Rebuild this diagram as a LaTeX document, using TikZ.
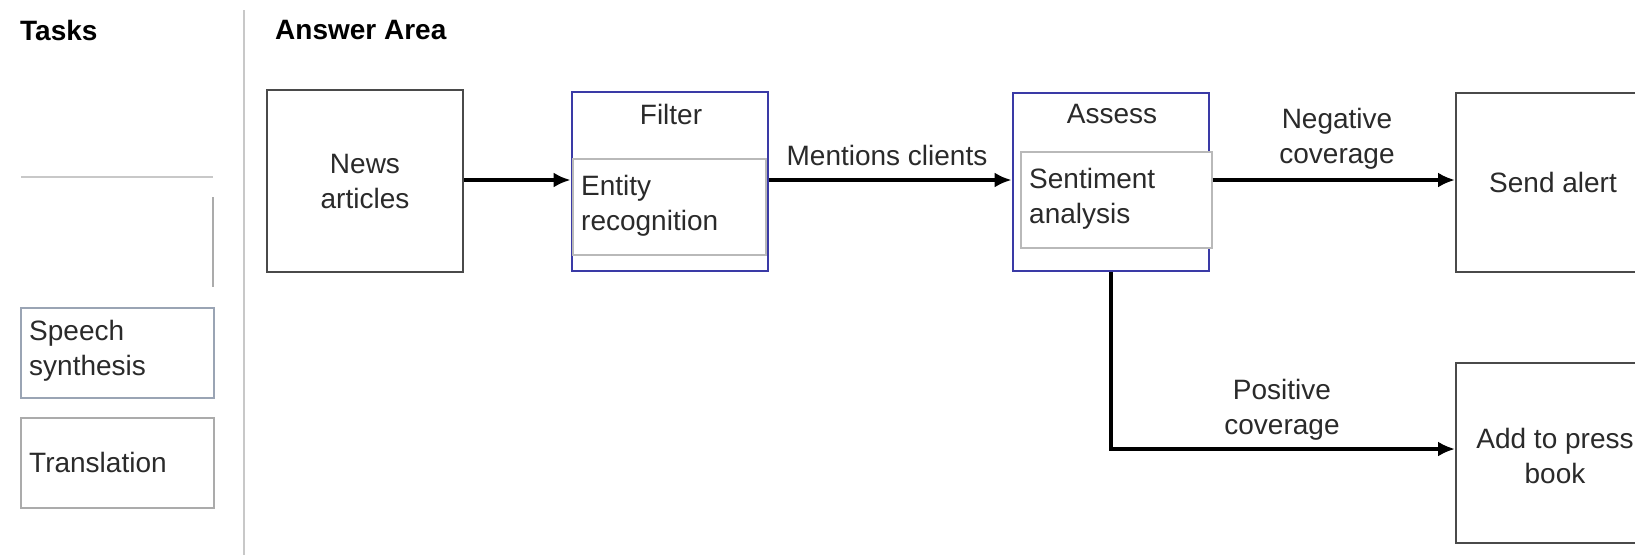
\documentclass[tikz,border=0pt]{standalone}
\usepackage{fontspec}
\setmainfont{Liberation Sans}
\usetikzlibrary{arrows.meta}
\definecolor{txt}{HTML}{2A2A2A}
\definecolor{grpblue}{HTML}{3A3AA6}
\definecolor{lightln}{HTML}{C8C8C8}
\definecolor{slotln}{HTML}{9AA4B4}
\begin{document}
\begin{tikzpicture}[x=1pt,y=-1pt,
  every node/.style={font=\fontsize{28}{35}\selectfont, text=txt},
  box/.style={draw=txt!85!white, line width=2.4pt, fill=white, inner sep=0pt},
  grp/.style={draw=grpblue, line width=2.8pt, inner sep=0pt},
  inbox/.style={draw=lightln!80!gray, line width=1.6pt, fill=white, inner sep=0pt},
  slot/.style={draw=slotln, line width=1.6pt, inner sep=0pt, minimum width=193, minimum height=90},
  arr/.style={draw=black, line width=3.4pt, -{Latex[length=17pt,width=15pt]}},
  lbl/.style={align=center, inner sep=0pt},
  head/.style={font=\fontsize{28}{32}\selectfont\bfseries, text=black, anchor=west, inner sep=0pt}]
\clip (0,0) rectangle (1635,555);
\fill[white] (0,0) rectangle (1635,555);

% left panel
\draw[lightln, line width=2pt] (244,10) -- (244,555);
\node[head] (tasks) at (20,30) {Tasks};
\node[head] (answer) at (275,30) {Answer Area};
\draw[lightln, line width=1.6pt] (21,177) -- (213,177);
\draw[lightln!60!gray, line width=1.6pt] (213,197) -- (213,287);
\node[slot, anchor=north west] (speech) at (20,307) {};
\node[anchor=west, align=left, inner sep=0pt] (speechtxt) at (29,351) {Speech\\synthesis};
\node[slot, draw=lightln!60!gray, anchor=north west] (transl) at (20,417) {};
\node[anchor=west, inner sep=0pt] (transltxt) at (29,462) {Translation};

% news articles
\node[box, minimum width=196, minimum height=182, align=center] (news) at (365,181) {News\\articles};

% filter group
\node[grp, minimum width=196, minimum height=179] (filter) at (670,181.5) {};
\node[inbox, minimum width=193, minimum height=96, anchor=north west] (entity) at (572,158) {};
\node[anchor=west, align=left, inner sep=0pt] (entitytxt) at (581,206) {Entity\\recognition};
\node[inner sep=0pt] (filtertxt) at (671,114) {Filter};

% assess group
\node[grp, minimum width=196, minimum height=178] (assess) at (1111,182) {};
\node[inbox, minimum width=191, minimum height=96, anchor=north west] (sent) at (1020,151) {};
\node[anchor=west, align=left, inner sep=0pt] (senttxt) at (1029,199) {Sentiment\\analysis};
\node[inner sep=0pt] (assesstxt) at (1112,114) {Assess};

% outputs
\node[box, minimum width=220, minimum height=179, anchor=north west] (alert) at (1455,92) {};
\node[inner sep=0pt] (alerttxt) at (1553,182) {Send alert};
\node[box, minimum width=220, minimum height=180, anchor=north west] (press) at (1455,362) {};
\node[lbl] (presstxt) at (1555,456) {Add to press\\book};

% connectors
\draw[arr] (news.east |- 0,180) -- (filter.west |- 0,180);
\draw[arr] (filter.east |- 0,180) -- (assess.west |- 0,180);
\draw[arr] (sent.east |- 0,180) -- (alert.west |- 0,180);
\draw[arr] (assess.south) |- (press.west |- 0,449);

% labels
\node[lbl] (mentions) at (887,155) {Mentions clients};
\node[lbl] (neg) at (1337,139) {Negative\\coverage};
\node[lbl] (pos) at (1282,410) {Positive\\coverage};
\end{tikzpicture}
\end{document}
